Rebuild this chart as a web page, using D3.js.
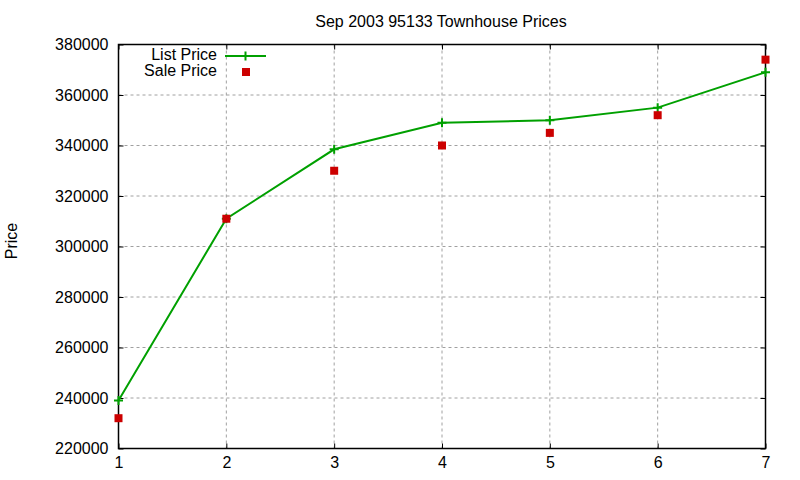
<!DOCTYPE html>
<html>
<head>
<meta charset="utf-8">
<script src="https://cdn.jsdelivr.net/npm/d3@7"></script>
<style>
  body { margin: 0; background: #fff; }
  text { font-family: "Liberation Sans", Arial, sans-serif; }
</style>
</head>
<body>
<div id="chart"></div>
<script>
// data
const months = [1, 2, 3, 4, 5, 6, 7];
const listPrice = [239000, 311000, 338500, 349000, 350000, 355000, 369000];
const salePrice = [232000, 311000, 330000, 340000, 345000, 352000, 374000];
const yTicks = [220000, 240000, 260000, 280000, 300000, 320000, 340000, 360000, 380000];

const width = 800, height = 480;
const margin = {top: 44.5, right: 34.5, bottom: 31.5, left: 118.5};
const green = "#00a000", red = "#cc0000";

const svg = d3.select("#chart").append("svg")
  .attr("width", width)
  .attr("height", height);

const xScale = d3.scaleLinear()
  .domain([1, 7])
  .range([margin.left, width - margin.right]);

const yScale = d3.scaleLinear()
  .domain([220000, 380000])
  .range([height - margin.bottom, margin.top]);

// grid
const grid = svg.append("g");
grid.selectAll("line.gy")
  .data(yTicks.slice(1, -1))
  .enter().append("line")
  .attr("x1", margin.left).attr("x2", width - margin.right)
  .attr("y1", d => yScale(d)).attr("y2", d => yScale(d))
  .attr("stroke", "#a0a0a0").attr("stroke-dasharray", "3,3");
grid.selectAll("line.gx")
  .data(months.slice(1, -1))
  .enter().append("line")
  .attr("x1", d => xScale(d)).attr("x2", d => xScale(d))
  .attr("y1", margin.top).attr("y2", height - margin.bottom)
  .attr("stroke", "#a0a0a0").attr("stroke-dasharray", "3,3");

// axes (ticks inward + mirror)
svg.append("g")
  .attr("transform", "translate(0," + (height - margin.bottom) + ")")
  .call(d3.axisBottom(xScale).tickValues(months).tickSize(-5).tickPadding(8).tickFormat(d3.format("d")))
  .call(g => g.select(".domain").remove())
  .selectAll("text").style("font-size", "16px").attr("fill", "#000");

svg.append("g")
  .attr("transform", "translate(" + margin.left + ",0)")
  .call(d3.axisLeft(yScale).tickValues(yTicks).tickSize(-5).tickPadding(10).tickFormat(d3.format("d")))
  .call(g => g.select(".domain").remove())
  .selectAll("text").style("font-size", "16px").attr("fill", "#000");

svg.append("g")
  .attr("transform", "translate(0," + margin.top + ")")
  .call(d3.axisTop(xScale).tickValues(months).tickSize(-5).tickFormat(""))
  .call(g => g.select(".domain").remove());

svg.append("g")
  .attr("transform", "translate(" + (width - margin.right) + ",0)")
  .call(d3.axisRight(yScale).tickValues(yTicks).tickSize(-5).tickFormat(""))
  .call(g => g.select(".domain").remove());

svg.append("rect")
  .attr("x", margin.left).attr("y", margin.top)
  .attr("width", width - margin.left - margin.right)
  .attr("height", height - margin.top - margin.bottom)
  .attr("fill", "none").attr("stroke", "#000").attr("stroke-width", 1.5);

// list price line
const line = d3.line()
  .x((d, i) => xScale(months[i]))
  .y(d => yScale(d));

svg.append("path")
  .datum(listPrice)
  .attr("d", line)
  .attr("fill", "none")
  .attr("stroke", green)
  .attr("stroke-width", 2);

function plusPath(s) {
  return "M" + (-s) + ",0H" + s + "M0," + (-s) + "V" + s;
}
svg.selectAll("path.plus")
  .data(listPrice)
  .enter().append("path")
  .attr("d", plusPath(4.5))
  .attr("transform", (d, i) => "translate(" + xScale(months[i]) + "," + yScale(d) + ")")
  .attr("stroke", green).attr("stroke-width", 2).attr("fill", "none");

// sale price squares
svg.selectAll("rect.sale")
  .data(salePrice)
  .enter().append("rect")
  .attr("x", (d, i) => xScale(months[i]) - 4)
  .attr("y", d => yScale(d) - 4)
  .attr("width", 8).attr("height", 8)
  .attr("fill", red);

// legend
const legend = svg.append("g");
legend.append("text").attr("x", 217).attr("y", 60)
  .attr("text-anchor", "end").style("font-size", "16px").text("List Price");
legend.append("line").attr("x1", 225).attr("x2", 266).attr("y1", 56).attr("y2", 56)
  .attr("stroke", green).attr("stroke-width", 2);
legend.append("path").attr("d", plusPath(4.5))
  .attr("transform", "translate(245.5,56)")
  .attr("stroke", green).attr("stroke-width", 2);
legend.append("text").attr("x", 217).attr("y", 75.5)
  .attr("text-anchor", "end").style("font-size", "16px").text("Sale Price");
legend.append("rect").attr("x", 242).attr("y", 68).attr("width", 8).attr("height", 8)
  .attr("fill", red);

// title and y label
svg.append("text")
  .attr("x", 441).attr("y", 27)
  .attr("text-anchor", "middle").style("font-size", "16px")
  .text("Sep 2003 95133 Townhouse Prices");

svg.append("text")
  .attr("transform", "translate(17,241) rotate(-90)")
  .attr("text-anchor", "middle").style("font-size", "16px")
  .text("Price");
</script>
</body>
</html>
